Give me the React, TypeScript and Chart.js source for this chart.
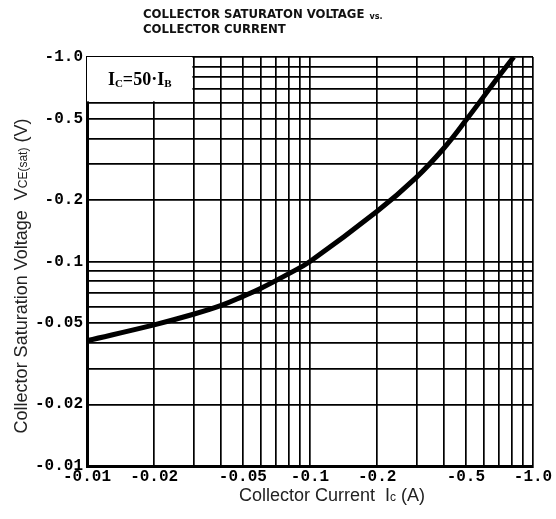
import { useEffect, useRef } from "react";
import { Chart, registerables } from "chart.js";

Chart.register(...registerables);

// Collector current Ic (A) and saturation voltage VCE(sat) (V)
const CURRENT_A = [-0.01, -0.02, -0.03, -0.04, -0.05, -0.06, -0.08, -0.1, -0.2, -0.3, -0.4, -0.5, -0.7, -0.82];
const VCE_SAT_V = [-0.041, -0.049, -0.0552, -0.061, -0.0675, -0.0738, -0.087, -0.1, -0.176, -0.258, -0.36, -0.49, -0.8, -1.0];

// grid lines of the log paper (magnitudes)
const GRID_STEPS = [
  0.01, 0.02, 0.03, 0.04, 0.05, 0.06, 0.07, 0.08, 0.09,
  0.1, 0.2, 0.3, 0.4, 0.5, 0.6, 0.7, 0.8, 0.9, 1.0,
];
const X_TICK_VALUES = [0.01, 0.02, 0.05, 0.1, 0.2, 0.5, 1.0];
const X_TICK_LABELS = ["-0.01", "-0.02", "-0.05", "-0.1", "-0.2", "-0.5", "-1.0"];
const Y_TICK_VALUES = [0.01, 0.02, 0.05, 0.1, 0.2, 0.5, 1.0];
const Y_TICK_LABELS = ["-0.01", "-0.02", "-0.05", "-0.1", "-0.2", "-0.5", "-1.0"];

const TITLE_LINE1 = "COLLECTOR SATURATON VOLTAGE";
const TITLE_VS = "vs.";
const TITLE_LINE2 = "COLLECTOR CURRENT";

const TICK_FONT = { family: "'Liberation Mono', 'DejaVu Sans Mono', monospace", size: 16, weight: "bold" as const };
const SANS = "'Liberation Sans', Arial, sans-serif";
const NARROW = "'Liberation Sans Narrow', 'DejaVu Sans Condensed', 'Liberation Sans', sans-serif";
const SERIF = "'Liberation Serif', 'DejaVu Serif', serif";

type Seg = { t: string; size: number; dy: number };

function drawSegs(ctx: CanvasRenderingContext2D, segs: Seg[], cx: number, cy: number, family: string, weight: string) {
  let total = 0;
  const widths = segs.map((s) => {
    ctx.font = `${weight} ${s.size}px ${family}`;
    const w = ctx.measureText(s.t).width;
    total += w;
    return w;
  });
  let x = cx - total / 2;
  ctx.textBaseline = "middle";
  ctx.textAlign = "left";
  segs.forEach((s, i) => {
    ctx.font = `${weight} ${s.size}px ${family}`;
    ctx.fillText(s.t, x, cy + s.dy);
    x += widths[i];
  });
}

function labelFor(values: number[], labels: string[], v: number) {
  const i = values.findIndex((t) => Math.abs(t - v) < 1e-9);
  return i >= 0 ? labels[i] : "";
}

const decorPlugin = {
  id: "decor",
  beforeDatasetsDraw(chart: any) {
    const { ctx, scales } = chart;
    const xs = scales.x;
    const ys = scales.y;
    const left = chart.chartArea.left;
    const top = chart.chartArea.top;
    const right = xs.getPixelForValue(0.03) - 1;
    const bottom = ys.getPixelForValue(0.6) - 1;
    ctx.save();
    ctx.fillStyle = "#fff";
    ctx.fillRect(left, top, right - left, bottom - top);
    ctx.fillStyle = "#000";
    drawSegs(
      ctx,
      [
        { t: "I", size: 18, dy: 0 },
        { t: "C", size: 11, dy: 4 },
        { t: "=50·I", size: 18, dy: 0 },
        { t: "B", size: 11, dy: 4 },
      ],
      (left + right) / 2,
      (top + bottom) / 2 + 1,
      SERIF,
      "bold"
    );
    ctx.restore();
  },
  afterDraw(chart: any) {
    const { ctx } = chart;
    ctx.save();
    ctx.fillStyle = "#111";
    ctx.textBaseline = "middle";
    ctx.textAlign = "left";
    ctx.font = `bold 13px ${NARROW}`;
    ctx.fillText(TITLE_LINE1, 143, 15);
    const w1 = ctx.measureText(TITLE_LINE1).width;
    ctx.font = `bold 9px ${NARROW}`;
    ctx.fillText(TITLE_VS, 143 + w1 + 5, 17);
    ctx.font = `bold 13px ${NARROW}`;
    ctx.fillText(TITLE_LINE2, 143, 30);

    ctx.fillStyle = "#222";
    drawSegs(
      ctx,
      [
        { t: "Collector Current  I", size: 18, dy: 0 },
        { t: "c", size: 12, dy: 2 },
        { t: " (A)", size: 18, dy: 0 },
      ],
      332,
      496,
      SANS,
      "normal"
    );

    ctx.translate(22, 276);
    ctx.rotate(-Math.PI / 2);
    drawSegs(
      ctx,
      [
        { t: "Collector Saturation Voltage  V", size: 18, dy: 0 },
        { t: "CE(sat)", size: 12, dy: 2 },
        { t: " (V)", size: 18, dy: 0 },
      ],
      0,
      0,
      SANS,
      "normal"
    );
    ctx.restore();
  },
};

export default function App() {
  const ref = useRef<HTMLCanvasElement | null>(null);

  useEffect(() => {
    if (!ref.current) return;
    const points = CURRENT_A.map((c, i) => ({ x: Math.abs(c), y: Math.abs(VCE_SAT_V[i]) }));
    const gridTicks = (scale: any) => {
      scale.ticks = GRID_STEPS.map((v) => ({ value: v }));
    };
    const chart = new Chart(ref.current, {
      type: "line",
      data: {
        datasets: [
          {
            data: points,
            borderColor: "#000",
            borderWidth: 5,
            pointRadius: 0,
            tension: 0.4,
            fill: false,
          },
        ],
      },
      options: {
        animation: false,
        responsive: false,
        devicePixelRatio: 1,
        layout: { padding: { top: 57, right: 23, left: 0, bottom: 0 } },
        plugins: { legend: { display: false }, tooltip: { enabled: false }, title: { display: false } },
        scales: {
          x: {
            type: "logarithmic",
            min: 0.01,
            max: 1,
            afterBuildTicks: gridTicks,
            afterFit: (s: any) => {
              s.height = 53;
            },
            grid: { color: "#000", lineWidth: 1.7, drawTicks: false },
            border: { display: true, color: "#000", width: 3 },
            ticks: {
              autoSkip: false,
              maxRotation: 0,
              padding: 1,
              color: "#000",
              font: TICK_FONT,
              callback: (v: any) => labelFor(X_TICK_VALUES, X_TICK_LABELS, Number(v)),
            },
          },
          y: {
            type: "logarithmic",
            min: 0.01,
            max: 1,
            afterBuildTicks: gridTicks,
            afterFit: (s: any) => {
              s.width = 87;
            },
            grid: { color: "#000", lineWidth: 1.7, drawTicks: false },
            border: { display: true, color: "#000", width: 3 },
            ticks: {
              autoSkip: false,
              padding: 4,
              color: "#000",
              font: TICK_FONT,
              callback: (v: any) => labelFor(Y_TICK_VALUES, Y_TICK_LABELS, Number(v)),
            },
          },
        },
      },
      plugins: [decorPlugin],
    } as any);
    return () => chart.destroy();
  }, []);

  return (
    <div style={{ position: "fixed", left: 0, top: 0, width: 556, height: 519, background: "#fff" }}>
      <canvas ref={ref} width={556} height={519} style={{ display: "block", width: 556, height: 519 }} />
    </div>
  );
}
